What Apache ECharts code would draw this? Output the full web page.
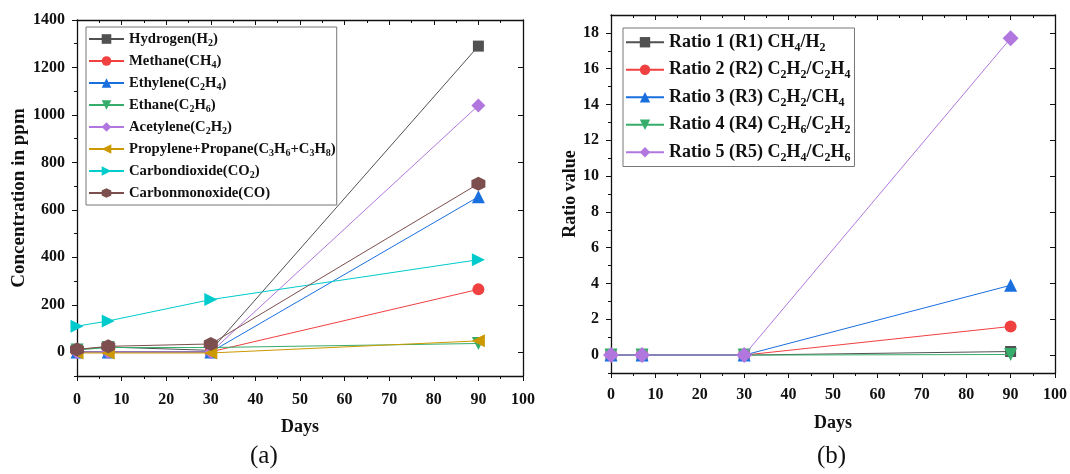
<!DOCTYPE html>
<html>
<head>
<meta charset="utf-8">
<script src="https://cdn.jsdelivr.net/npm/echarts@6/dist/echarts.min.js"></script>
<style>
html,body{margin:0;padding:0;background:#fff;}
#c{width:1070px;height:474px;}
</style>
</head>
<body>
<div id="c"></div>
<script>
// ---------- data ----------
const days = [0, 7, 30, 90];

// panel (a): gas concentrations (ppm)
const gasNames = [
  'Hydrogen(H{s|2})',
  'Methane(CH{s|4})',
  'Ethylene(C{s|2}H{s|4})',
  'Ethane(C{s|2}H{s|6})',
  'Acetylene(C{s|2}H{s|2})',
  'Propylene+Propane(C{s|3}H{s|6}+C{s|3}H{s|8})',
  'Carbondioxide(CO{s|2})',
  'Carbonmonoxide(CO)'
];
const hydrogen   = [12, 22, 8, 1290];
const methane    = [2, 2, 2, 265];
const ethylene   = [1, 1, 1, 655];
const ethane     = [10, 20, 20, 37];
const acetylene  = [0, 0, 0, 1040];
const propPlus   = [-3, -3, -3, 48];
const co2        = [110, 132, 222, 390];
const co         = [12, 25, 35, 710];
const gasValues = [hydrogen, methane, ethylene, ethane, acetylene, propPlus, co2, co];

// panel (b): ratios
const ratioNames = [
  'Ratio 1 (R1) CH{s|4}/H{s|2}',
  'Ratio 2 (R2) C{s|2}H{s|2}/C{s|2}H{s|4}',
  'Ratio 3 (R3) C{s|2}H{s|2}/CH{s|4}',
  'Ratio 4 (R4) C{s|2}H{s|6}/C{s|2}H{s|2}',
  'Ratio 5 (R5) C{s|2}H{s|4}/C{s|2}H{s|6}'
];
const r1 = [0, 0, 0, 0.2];
const r2 = [0, 0, 0, 1.6];
const r3 = [0, 0, 0, 3.9];
const r4 = [0, 0, 0, 0.035];
const r5 = [0, 0, 0, 17.7];
const ratioValues = [r1, r2, r3, r4, r5];

// tick labels
const xTicks = [0, 10, 20, 30, 40, 50, 60, 70, 80, 90, 100];
const yTicksA = [0, 200, 400, 600, 800, 1000, 1200, 1400];
const yMinorA = [-100, 100, 300, 500, 700, 900, 1100, 1300];
const yTicksB = [0, 2, 4, 6, 8, 10, 12, 14, 16, 18];
const yMinorB = [-1, 1, 3, 5, 7, 9, 11, 13, 15, 17];

// ---------- styling ----------
const colors = ['#515151', '#F14040', '#1A6FDF', '#37AD6B', '#B177DE', '#CC9900', '#00CBCC', '#7D4E4E'];
const hexagon = 'path://M50,0 L93.3,25 L93.3,75 L50,100 L6.7,75 L6.7,25 Z';
const symbols = [
  {symbol: 'rect', rot: 0, size: 11},
  {symbol: 'circle', rot: 0, size: 12},
  {symbol: 'triangle', rot: 0, size: 13},
  {symbol: 'triangle', rot: 180, size: 13},
  {symbol: 'diamond', rot: 0, size: 14},
  {symbol: 'triangle', rot: 90, size: 13},
  {symbol: 'triangle', rot: -90, size: 13},
  {symbol: hexagon, rot: 0, size: 14}
];
const FONT = '"Liberation Serif", "DejaVu Serif", serif';
const axisCol = '#111';
const plain = function (v) { return String(v); };

function xAxes(grid, gap, margin) {
  const base = {
    type: 'value', gridIndex: grid, min: 0, max: 100, interval: 10,
    splitLine: {show: false},
    axisLine: {show: true, onZero: false, lineStyle: {color: axisCol, width: 1.3}},
    minorTick: {show: true, splitNumber: 2, length: 3, lineStyle: {color: axisCol, width: 1}},
    minorSplitLine: {show: false}
  };
  return [
    Object.assign({}, base, {
      position: 'bottom',
      name: 'Days', nameLocation: 'middle', nameGap: gap,
      nameTextStyle: {fontFamily: FONT, fontWeight: 'bold', fontSize: 18, color: axisCol},
      axisTick: {show: true, inside: false, length: 5, lineStyle: {color: axisCol, width: 1}},
      axisLabel: {show: true, margin: margin, fontFamily: FONT, fontWeight: 'bold', fontSize: 16, color: axisCol,
        customValues: xTicks, formatter: plain}
    }),
    Object.assign({}, base, {
      position: 'top',
      axisTick: {show: true, inside: true, length: 5, lineStyle: {color: axisCol, width: 1}},
      minorTick: {show: true, splitNumber: 2, length: 3, lineStyle: {color: axisCol, width: 1}},
      axisLabel: {show: false}
    })
  ];
}

function yAxes(grid, min, max, major, minor, name, nameGap, nameSize) {
  const base = {
    type: 'value', gridIndex: grid, min: min, max: max,
    splitLine: {show: false},
    axisLine: {show: true, onZero: false, lineStyle: {color: axisCol, width: 1.3}}
  };
  return [
    Object.assign({}, base, {
      position: 'left',
      name: name, nameLocation: 'middle', nameGap: nameGap, nameRotate: 90,
      nameTextStyle: {fontFamily: FONT, fontWeight: 'bold', fontSize: nameSize, color: axisCol},
      axisTick: {show: true, inside: false, length: 5, customValues: major, lineStyle: {color: axisCol, width: 1}},
      axisLabel: {show: true, margin: 12, fontFamily: FONT, fontWeight: 'bold', fontSize: 16, color: axisCol,
        customValues: major, formatter: plain}
    }),
    Object.assign({}, base, {
      position: 'left',
      axisLine: {show: false},
      axisTick: {show: true, inside: false, length: 3, customValues: minor, lineStyle: {color: axisCol, width: 1}},
      axisLabel: {show: false}
    }),
    Object.assign({}, base, {
      position: 'right',
      axisTick: {show: true, inside: true, length: 5, customValues: major, lineStyle: {color: axisCol, width: 1}},
      axisLabel: {show: false}
    }),
    Object.assign({}, base, {
      position: 'right',
      axisLine: {show: false},
      axisTick: {show: true, inside: true, length: 3, customValues: minor, lineStyle: {color: axisCol, width: 1}},
      axisLabel: {show: false}
    })
  ];
}

const series = [];
gasNames.forEach(function (n, i) {
  series.push({
    name: n, type: 'line', xAxisIndex: 0, yAxisIndex: 0, z: 2 + i * 0.01,
    data: days.map(function (d, k) { return [d, gasValues[i][k]]; }),
    symbol: symbols[i].symbol, symbolRotate: symbols[i].rot, symbolSize: symbols[i].size,
    showAllSymbol: true,
    lineStyle: {color: colors[i], width: 1},
    itemStyle: {color: colors[i], opacity: 1},
    emphasis: {disabled: true},
    animation: false
  });
});
ratioNames.forEach(function (n, i) {
  const s = symbols[i];
  series.push({
    name: n, type: 'line', xAxisIndex: 2, yAxisIndex: 4, z: 2 + i * 0.01,
    data: days.map(function (d, k) { return [d, ratioValues[i][k]]; }),
    symbol: s.symbol, symbolRotate: s.rot, symbolSize: i === 4 ? 16 : s.size,
    showAllSymbol: true,
    lineStyle: {color: colors[i], width: 1},
    itemStyle: {color: colors[i], opacity: 1},
    emphasis: {disabled: true},
    animation: false
  });
});

function legendStyle(fs, lh, sfs, slh) {
  return {
    fontFamily: FONT, fontWeight: 'bold', fontSize: fs, color: axisCol, lineHeight: lh,
    rich: {
      s: {fontFamily: FONT, fontWeight: 'bold', fontSize: sfs, color: axisCol, lineHeight: slh, verticalAlign: 'bottom'}
    }
  };
}

const option = {
  animation: false,
  backgroundColor: '#fff',
  grid: [
    {left: 77, top: 20, width: 446, height: 356, containLabel: false},
    {left: 611, top: 15, width: 445, height: 358, containLabel: false}
  ],
  xAxis: xAxes(0, 42, 16).concat(xAxes(1, 41, 14)),
  yAxis: yAxes(0, -100, 1400, yTicksA, yMinorA, 'Concentration in ppm', 48, 19)
    .concat(yAxes(1, -1, 19, yTicksB, yMinorB, 'Ratio value', 32, 18)),
  legend: [
    {
      data: gasNames, orient: 'vertical', left: 86, top: 27,
      itemWidth: 35, itemHeight: 12, itemGap: 4,
      padding: [3, 1, 3, 2],
      borderColor: '#777', borderWidth: 1, backgroundColor: '#fff',
      textStyle: legendStyle(14.7, 18, 10, 11),
      selectedMode: false
    },
    {
      data: ratioNames, orient: 'vertical', left: 623, top: 28,
      itemWidth: 38, itemHeight: 13, itemGap: 5,
      padding: [3, 4, 3, 2],
      borderColor: '#777', borderWidth: 1, backgroundColor: '#fff',
      textStyle: legendStyle(18, 22.5, 12, 14),
      selectedMode: false
    }
  ],
  graphic: [
    {type: 'text', left: 250, top: 444, style: {text: '(a)', font: '25px "Liberation Serif", serif', fill: '#111'}},
    {type: 'text', left: 817, top: 444, style: {text: '(b)', font: '25px "Liberation Serif", serif', fill: '#111'}}
  ],
  series: series
};

const chart = echarts.init(document.getElementById('c'), null, {renderer: 'canvas'});
chart.setOption(option);
</script>
</body>
</html>
